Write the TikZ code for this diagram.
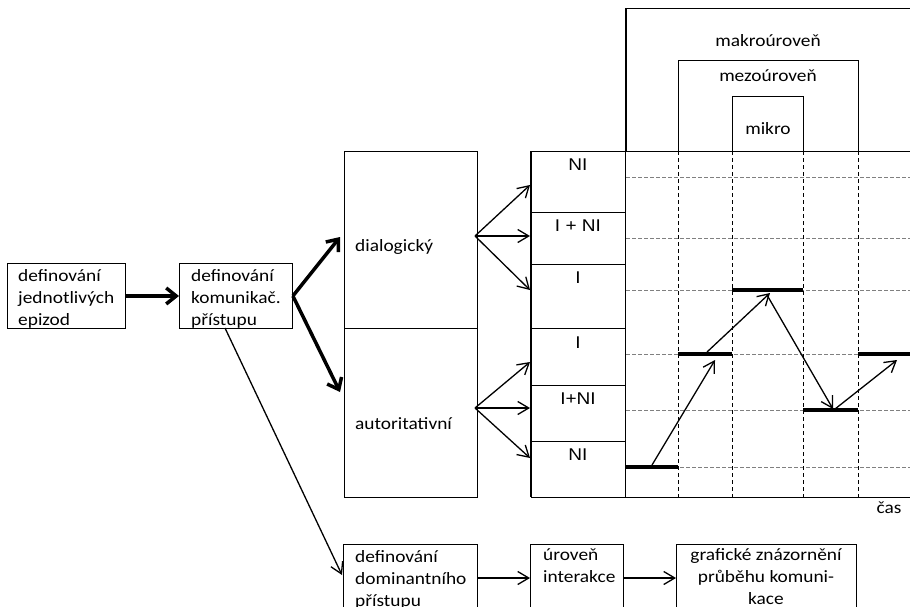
\documentclass[tikz,border=0pt]{standalone}
\usepackage{fontspec}
\setmainfont{Carlito}[FakeStretch=1.12]
\newfontfamily\arialf{Liberation Sans}[FakeStretch=1.12]
\usetikzlibrary{arrows.meta}
\begin{document}
\begin{tikzpicture}[x=1pt,y=-1pt,
 box/.style={draw, line width=0.9pt, inner sep=0pt, anchor=north west},
 txt/.style={inner sep=0pt, font=\fontsize{17.3}{22}\selectfont, align=left, anchor=north west},
 ctxt/.style={inner sep=0pt, font=\fontsize{17.3}{22}\selectfont, align=center},
 lvl/.style={inner sep=0pt, font=\arialf\fontsize{17}{20}\selectfont},
 thinarr/.style={line width=1.3pt, -{Straight Barb[length=11pt,width=13pt,line width=1.3pt]}},
 thickarr/.style={line width=3.5pt, -{Straight Barb[length=10pt,width=16pt]}},
 bar/.style={line width=4.5pt},
 vdash/.style={line width=0.9pt, dash pattern=on 4pt off 3pt},
 hdash/.style={line width=0.9pt, gray, dash pattern=on 4pt off 2pt},
]
\useasboundingbox (0,0) rectangle (910,606);
\clip (0,0) rectangle (910,606);

% ---- grid (dashed) ----
\foreach \yy in {177,238,290,354,410,467}
  \draw[hdash] (626,\yy) -- (912,\yy);
\foreach \xx in {678,732,803,858}
  \draw[vdash] (\xx,151) -- (\xx,497);
\draw[line width=0.9pt] (531,151) -- (912,151);
\draw[line width=0.9pt] (531,497) -- (912,497);

% ---- level boxes (makro / mezo / mikro) ----
\node[box, minimum width=300pt, minimum height=143pt] (makro) at (626,8) {};
\draw[line width=2pt] (626,151) -- (626,8);
\node[box, minimum width=180pt, minimum height=91pt] (mezo) at (678,60) {};
\node[box, minimum width=71pt, minimum height=55pt] (mikro) at (732,96) {};
\node[ctxt] (makrot) at (768,41) {makroúroveň};
\node[ctxt] (mezot) at (768,76) {mezoúroveň};
\node[ctxt] (mikrot) at (768,129) {mikro};

% ---- left boxes ----
\node[box, minimum width=118pt, minimum height=65pt] (e1) at (7,263) {};
\node[txt] (e1t) at (18,269) {definování\\jednotlivých\\epizod};
\node[box, minimum width=113pt, minimum height=65pt] (e2) at (179,263) {};
\node[txt] (e2t) at (191,269) {definování\\komunikač.\\přístupu};

% ---- approach boxes ----
\node[box, minimum width=133pt, minimum height=177pt] (dlg) at (344,151) {};
\node[box, minimum width=133pt, minimum height=169pt] (aut) at (344,328) {};
\node[txt, anchor=west] (dlgt) at (355,247) {dialogický};
\node[txt, anchor=west] (autt) at (355,424) {autoritativní};

% ---- level column ----
\node[box, minimum width=94pt, minimum height=61pt] (c1) at (531,151) {};
\node[box, minimum width=94pt, minimum height=52pt] (c2) at (531,212) {};
\node[box, minimum width=94pt, minimum height=64pt] (c3) at (531,264) {};
\node[box, minimum width=94pt, minimum height=57pt] (c4) at (531,328) {};
\node[box, minimum width=94pt, minimum height=56pt] (c5) at (531,385) {};
\node[box, minimum width=94pt, minimum height=56pt] (c6) at (531,441) {};
\draw[line width=1.8pt] (531,151) -- (531,497);
\node[lvl] (l1) at (578,164.5) {NI};
\node[lvl] (l2) at (578,225.5) {I + NI};
\node[lvl] (l3) at (578,277.5) {I};
\node[lvl] (l4) at (578,342.5) {I};
\node[lvl] (l5) at (578,399) {I+NI};
\node[lvl] (l6) at (578,454.5) {NI};

% ---- bottom boxes ----
\node[box, minimum width=134pt, minimum height=80pt] (ba) at (343,544) {};
\node[box, minimum width=93pt, minimum height=80pt] (bb) at (530,544) {};
\node[box, minimum width=180pt, minimum height=80pt] (bc) at (676,544) {};
\node[txt] (bat) at (355,550) {definování\\dominantního\\přístupu};
\node[txt] (bbt) at (543,548) {úroveň\\interakce};
\node[ctxt, anchor=north] (bct) at (766,548) {grafické znázornění\\průběhu komuni-\\kace};

\node[inner sep=0pt, font=\fontsize{17.3}{21}\selectfont, anchor=base] (cas) at (889,513) {čas};

% ---- connectors ----
\coordinate (tD) at (340,237);
\coordinate (tA) at (340,392);
\coordinate (oD) at (475,236);
\coordinate (oA) at (475,408);
\coordinate (s2) at (225,328);
\coordinate (tB) at (342,575);
\coordinate (yb) at (0,578);

\draw[thickarr] (e1.east) -- (e2.west);
\draw[thickarr] (e2.east) -- (tD);
\draw[thickarr] (e2.east) -- (tA);
\draw[thinarr] (s2) -- (tB);

\draw[thinarr] (oD) -- (530,185);
\draw[thinarr] (oD) -- (530,236);
\draw[thinarr] (oD) -- (530,290);
\draw[thinarr] (oA) -- (530,362);
\draw[thinarr] (oA) -- (530,408);
\draw[thinarr] (oA) -- (530,458);

\draw[thinarr] (ba.east |- yb) -- (bb.west |- yb);
\draw[thinarr] (bb.east |- yb) -- (bc.west |- yb);

% ---- chart ----
\coordinate (p0a) at (626,467); \coordinate (p0b) at (678,467);
\coordinate (p1a) at (678,354); \coordinate (p1b) at (732,354);
\coordinate (p2a) at (732,290); \coordinate (p2b) at (803,290);
\coordinate (p3a) at (803,410); \coordinate (p3b) at (858,410);
\coordinate (p4a) at (858,354); \coordinate (p4b) at (912,354);
\draw[bar] (p0a) -- (p0b);
\draw[bar] (p1a) -- (p1b);
\draw[bar] (p2a) -- (p2b);
\draw[bar] (p3a) -- (p3b);
\draw[bar] (p4a) -- (p4b);
\draw[thinarr] (652,465) -- (715,360);
\draw[thinarr] (707,352) -- (770,293);
\draw[thinarr] (767,295) -- (833,409);
\draw[thinarr] (835,409) -- (897,360);
\end{tikzpicture}
\end{document}
